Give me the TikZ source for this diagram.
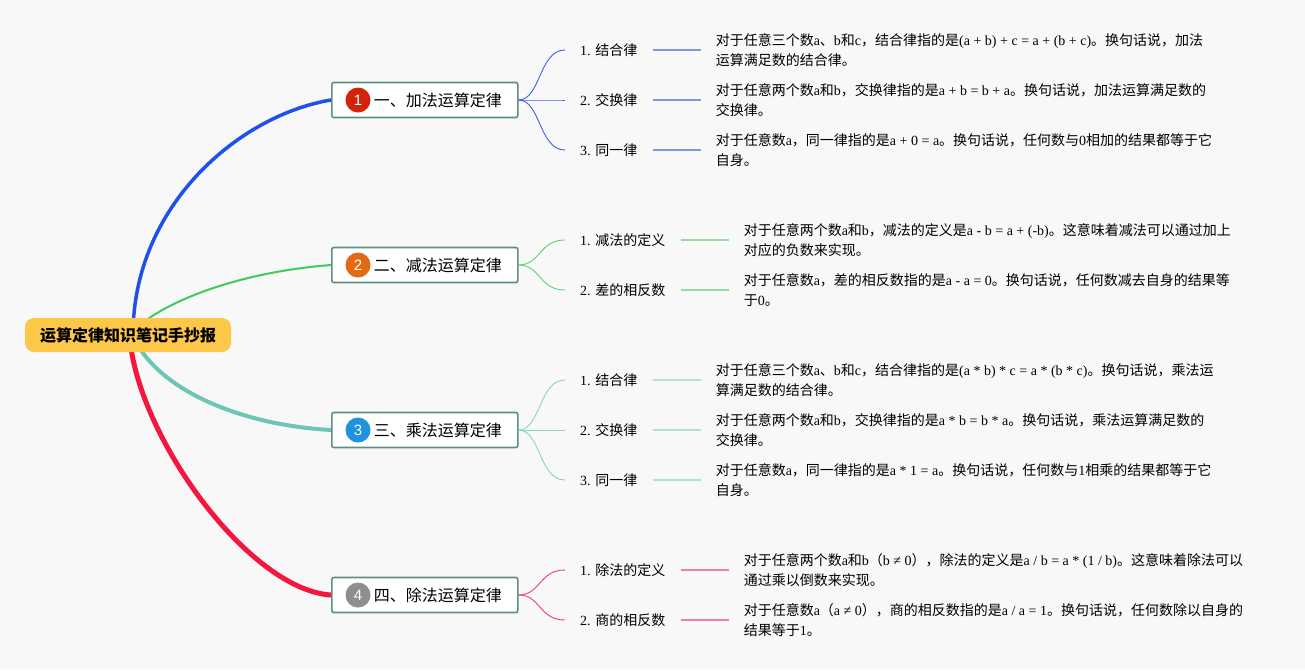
\documentclass[tikz,border=0pt]{standalone}
\usepackage{fontspec}
\setmainfont{Liberation Serif}
\newfontfamily\cjkfont{Noto Sans CJK SC}
\newfontfamily\latfont{Liberation Serif}
\newfontfamily\iconfont{Liberation Sans}
\usetikzlibrary{positioning}
% automatic switching between Latin and CJK fonts
\XeTeXinterchartokenstate=1
\newXeTeXintercharclass\mycjk
\newcount\mycnt
\mycnt="3000
\loop \XeTeXcharclass\mycnt=\mycjk \ifnum\mycnt<"303F \advance\mycnt by 1 \repeat
\mycnt="4E00
\loop \XeTeXcharclass\mycnt=\mycjk \ifnum\mycnt<"9FFF \advance\mycnt by 1 \repeat
\mycnt="FF00
\loop \XeTeXcharclass\mycnt=\mycjk \ifnum\mycnt<"FFEF \advance\mycnt by 1 \repeat
\XeTeXinterchartoks 0 \mycjk = {\cjkfont}
\XeTeXinterchartoks 4095 \mycjk = {\cjkfont}
\XeTeXinterchartoks \mycjk 0 = {\latfont}
\XeTeXinterchartoks \mycjk 4095 = {\latfont}

\definecolor{bgc}{HTML}{F8F8F9}
\definecolor{mainA}{HTML}{1E50EB}
\definecolor{mainB}{HTML}{3DCB5C}
\definecolor{mainC}{HTML}{6CC5B5}
\definecolor{mainD}{HTML}{F5163F}
\definecolor{thinA}{HTML}{3A63E0}
\definecolor{thinB}{HTML}{5ED174}
\definecolor{thinC}{HTML}{8AD3C5}
\definecolor{thinD}{HTML}{E94468}
\definecolor{shortA}{HTML}{7C9AE3}
\definecolor{shortB}{HTML}{93DDA0}
\definecolor{shortC}{HTML}{B0E0D8}
\definecolor{shortD}{HTML}{EC8298}
\definecolor{boxc}{HTML}{5E8F80}
\definecolor{rootc}{HTML}{FDC74A}
\definecolor{iconA}{HTML}{D2230B}
\definecolor{iconB}{HTML}{E26A13}
\definecolor{iconC}{HTML}{1E94DE}
\definecolor{iconD}{HTML}{8E8E8E}

\pgfdeclarelayer{bg}
\pgfsetlayers{bg,main}

\tikzset{
  rootbox/.style={fill=rootc, rounded corners=9pt, minimum width=206pt, minimum height=34pt,
    inner sep=0pt, font=\bfseries\fontsize{16}{18}\selectfont},
  branchbox/.style={draw=boxc, line width=1.6pt, fill=white, rounded corners=2pt,
    minimum height=35pt, minimum width=185pt, inner xsep=16pt, inner ysep=0pt,
    anchor=west, font=\fontsize{16}{18}\selectfont},
  iconc/.style={circle, fill=#1, text=white, minimum size=25pt, inner sep=0pt,
    font={\XeTeXinterchartokenstate=0 \iconfont\fontsize{15}{15}\selectfont}},
  leafbox/.style={inner xsep=15pt, inner ysep=3pt, anchor=west, font=\fontsize{14}{16}\selectfont},
  descbox/.style={inner xsep=15pt, inner ysep=2pt, align=left, font=\fontsize{14}{20}\selectfont},
  mainline/.style={line width=#1, line cap=round},
  thinline/.style={draw=#1, line width=0.9pt},
  shortline/.style={draw=#1, line width=1.6pt},
}

\begin{document}
\begin{tikzpicture}[x=1pt,y=-1pt]
\useasboundingbox (0,0) rectangle (1305,670);
\begin{pgfonlayer}{bg}
\fill[bgc] (0,0) rectangle (1305,670);
\end{pgfonlayer}

% root
\node[rootbox] (root) at (128,335) {运算定律知识笔记手抄报};
\coordinate (rsA) at (133,335);
\coordinate (rsB) at (140,325);
\coordinate (rsC) at (135,340);
\coordinate (rsD) at (130,340);

% branches
\node[branchbox] (b1) at (331,100) {\hspace{26pt}一、加法运算定律};
\node[branchbox] (b2) at (331,265) {\hspace{26pt}二、减法运算定律};
\node[branchbox] (b3) at (331,430) {\hspace{26pt}三、乘法运算定律};
\node[branchbox] (b4) at (331,595) {\hspace{26pt}四、除法运算定律};
\node[iconc=iconA] (i1) at (358,100) {1};
\node[iconc=iconB] (i2) at (358,265) {2};
\node[iconc=iconC] (i3) at (358,430) {3};
\node[iconc=iconD] (i4) at (358,595) {4};

\begin{pgfonlayer}{bg}
\draw[mainline=3.5pt, draw=mainA] (rsA) .. controls (133,205) and (240,115) .. (b1.west);
\draw[mainline=2pt, draw=mainB] (rsB) .. controls (170,300) and (240,272) .. (b2.west);
\draw[mainline=4pt, draw=mainC] (rsC) .. controls (160,390) and (240,425) .. (b3.west);
\draw[mainline=5pt, draw=mainD] (rsD) .. controls (140,440) and (250,590) .. (b4.west);
\end{pgfonlayer}

% ---- branch 1
\node[leafbox] (l11) at (565,50) {1. 结合律};
\node[leafbox] (l12) at (565,100) {2. 交换律};
\node[leafbox] (l13) at (565,150) {3. 同一律};
\node[descbox, right=48pt of l11] (d11) {对于任意三个数a、b和c，结合律指的是(a + b) + c = a + (b + c)。换句话说，加法\\运算满足数的结合律。};
\node[descbox, right=48pt of l12] (d12) {对于任意两个数a和b，交换律指的是a + b = b + a。换句话说，加法运算满足数的\\交换律。};
\node[descbox, right=48pt of l13] (d13) {对于任意数a，同一律指的是a + 0 = a。换句话说，任何数与0相加的结果都等于它\\自身。};
\foreach \n in {l11,l12,l13} {
  \draw[thinline=thinA] (b1.east) .. controls +(22,0) and +(-26,0) .. (\n.west);
}
\draw[shortline=shortA] (l11.east) -- (d11.west);
\draw[shortline=shortA] (l12.east) -- (d12.west);
\draw[shortline=shortA] (l13.east) -- (d13.west);

% ---- branch 2
\node[leafbox] (l21) at (565,240) {1. 减法的定义};
\node[leafbox] (l22) at (565,290) {2. 差的相反数};
\node[descbox, right=48pt of l21] (d21) {对于任意两个数a和b，减法的定义是a - b = a + (-b)。这意味着减法可以通过加上\\对应的负数来实现。};
\node[descbox, right=48pt of l22] (d22) {对于任意数a，差的相反数指的是a - a = 0。换句话说，任何数减去自身的结果等\\于0。};
\foreach \n in {l21,l22} {
  \draw[thinline=thinB] (b2.east) .. controls +(22,0) and +(-26,0) .. (\n.west);
}
\draw[shortline=shortB] (l21.east) -- (d21.west);
\draw[shortline=shortB] (l22.east) -- (d22.west);

% ---- branch 3
\node[leafbox] (l31) at (565,380) {1. 结合律};
\node[leafbox] (l32) at (565,430) {2. 交换律};
\node[leafbox] (l33) at (565,480) {3. 同一律};
\node[descbox, right=48pt of l31] (d31) {对于任意三个数a、b和c，结合律指的是(a * b) * c = a * (b * c)。换句话说，乘法运\\算满足数的结合律。};
\node[descbox, right=48pt of l32] (d32) {对于任意两个数a和b，交换律指的是a * b = b * a。换句话说，乘法运算满足数的\\交换律。};
\node[descbox, right=48pt of l33] (d33) {对于任意数a，同一律指的是a * 1 = a。换句话说，任何数与1相乘的结果都等于它\\自身。};
\foreach \n in {l31,l32,l33} {
  \draw[thinline=thinC] (b3.east) .. controls +(22,0) and +(-26,0) .. (\n.west);
}
\draw[shortline=shortC] (l31.east) -- (d31.west);
\draw[shortline=shortC] (l32.east) -- (d32.west);
\draw[shortline=shortC] (l33.east) -- (d33.west);

% ---- branch 4
\node[leafbox] (l41) at (565,570) {1. 除法的定义};
\node[leafbox] (l42) at (565,620) {2. 商的相反数};
\node[descbox, right=48pt of l41] (d41) {对于任意两个数a和b（b ≠ 0），除法的定义是a / b = a * (1 / b)。这意味着除法可以\\通过乘以倒数来实现。};
\node[descbox, right=48pt of l42] (d42) {对于任意数a（a ≠ 0），商的相反数指的是a / a = 1。换句话说，任何数除以自身的\\结果等于1。};
\foreach \n in {l41,l42} {
  \draw[thinline=thinD] (b4.east) .. controls +(22,0) and +(-26,0) .. (\n.west);
}
\draw[shortline=shortD] (l41.east) -- (d41.west);
\draw[shortline=shortD] (l42.east) -- (d42.west);
\end{tikzpicture}
\end{document}
